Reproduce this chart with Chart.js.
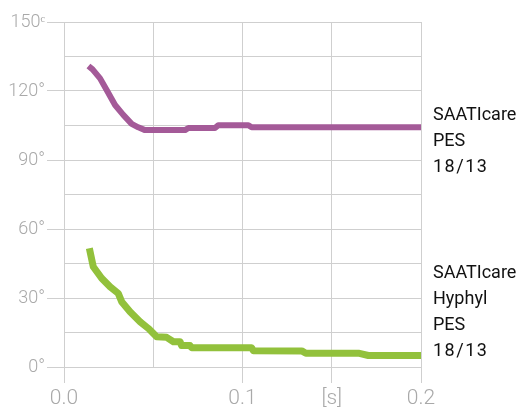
<!DOCTYPE html>
<html>
<head>
<meta charset="utf-8">
<script src="https://cdn.jsdelivr.net/npm/chart.js@4/dist/chart.umd.min.js"></script>
<style>
html,body{margin:0;padding:0;background:#fff;}
canvas{display:block;}
</style>
</head>
<body>
<canvas id="c" width="523" height="412"></canvas>
<script>
// ---- data ----
const PES_X = [0.0137, 0.0160, 0.0202, 0.0239, 0.0286, 0.0332, 0.0379, 0.0416, 0.0454, 0.0678, 0.0697, 0.0846, 0.0864, 0.1033, 0.1051, 0.2];
const PES_Y = [130.9, 129.4, 125.5, 120.4, 113.9, 109.6, 105.7, 104.2, 103.0, 103.0, 103.9, 103.9, 105.1, 105.1, 104.2, 104.2];
const HYPHYL_X = [0.0142, 0.0164, 0.0211, 0.0258, 0.0304, 0.0323, 0.0370, 0.0426, 0.0472, 0.0519, 0.0575, 0.0613, 0.0650, 0.0659, 0.0706, 0.0715, 0.1051, 0.1061, 0.1332, 0.1355, 0.1649, 0.1705, 0.2];
const HYPHYL_Y = [51.6, 43.6, 38.6, 34.9, 32.0, 28.4, 24.0, 19.7, 16.8, 13.2, 12.9, 11.0, 11.0, 9.3, 9.3, 8.4, 8.4, 7.1, 7.0, 6.0, 6.0, 5.0, 5.0];
const X_TICK_LABELS = ['0.0', '', '0.1', '[s]', '0.2'];
const Y_TICK_LABELS = ['0°', '', '30°', '', '60°', '', '90°', '', '120°', '', '150ᶜ'];
const PES_LABEL = ['SAATIcare', 'PES', '18/13'];
const HYPHYL_LABEL = ['SAATIcare', 'Hyphyl', 'PES', '18/13'];

const toPts = (xs, ys) => xs.map((x, i) => ({x: x, y: ys[i]}));

const GRID = '#cfcfcf';
const TICKTXT = '#a9a9a9';

const sideLabels = {
  id: 'sideLabels',
  afterDraw(chart) {
    const ctx = chart.ctx;
    const area = chart.chartArea;
    ctx.save();
    ctx.fillStyle = '#111';
    ctx.font = '18px Roboto';
    ctx.textAlign = 'left';
    ctx.textBaseline = 'middle';
    const x = area.right + 12;
    const groups = [[PES_LABEL, 115], [HYPHYL_LABEL, 273]];
    groups.forEach(([lines, y0]) => {
      lines.forEach((t, i) => {
        ctx.letterSpacing = t.indexOf('/') >= 0 ? '1.5px' : '0px';
        ctx.fillText(t, x, y0 + i * 26);
      });
    });
    ctx.restore();
  }
};

new Chart(document.getElementById('c'), {
  type: 'line',
  data: {
    datasets: [
      {data: toPts(PES_X, PES_Y), borderColor: '#a45a98', borderWidth: 6, pointRadius: 0, tension: 0, borderCapStyle: 'butt', borderJoinStyle: 'round'},
      {data: toPts(HYPHYL_X, HYPHYL_Y), borderColor: '#92c13c', borderWidth: 7, pointRadius: 0, tension: 0, borderCapStyle: 'butt', borderJoinStyle: 'round'}
    ]
  },
  plugins: [sideLabels],
  options: {
    responsive: false,
    animation: false,
    devicePixelRatio: 1,
    layout: {padding: {top: 22, right: 102, left: 0, bottom: 0}},
    plugins: {legend: {display: false}, tooltip: {enabled: false}},
    scales: {
      x: {
        type: 'linear', min: 0, max: 0.2,
        afterFit(s) { s.height = 45; },
        ticks: {
          stepSize: 0.05, autoSkip: false, maxRotation: 0, padding: 3,
          color: TICKTXT, font: {family: 'Roboto', size: 21, weight: '300'},
          callback: (v, i) => X_TICK_LABELS[i]
        },
        grid: {color: GRID, lineWidth: 1, tickLength: 16,
          tickColor: (c) => (X_TICK_LABELS[c.index] ? GRID : 'rgba(0,0,0,0)')},
        border: {color: GRID}
      },
      y: {
        type: 'linear', min: 0, max: 150,
        afterFit(s) { s.width = 64; },
        ticks: {
          stepSize: 15, autoSkip: false, padding: 2,
          color: TICKTXT, font: {family: 'Roboto', size: 18, weight: '300'},
          callback: (v, i) => Y_TICK_LABELS[i]
        },
        grid: {color: GRID, lineWidth: 1, tickLength: 17,
          tickColor: (c) => (Y_TICK_LABELS[c.index] ? GRID : 'rgba(0,0,0,0)')},
        border: {color: GRID}
      }
    }
  }
});
</script>
</body>
</html>
